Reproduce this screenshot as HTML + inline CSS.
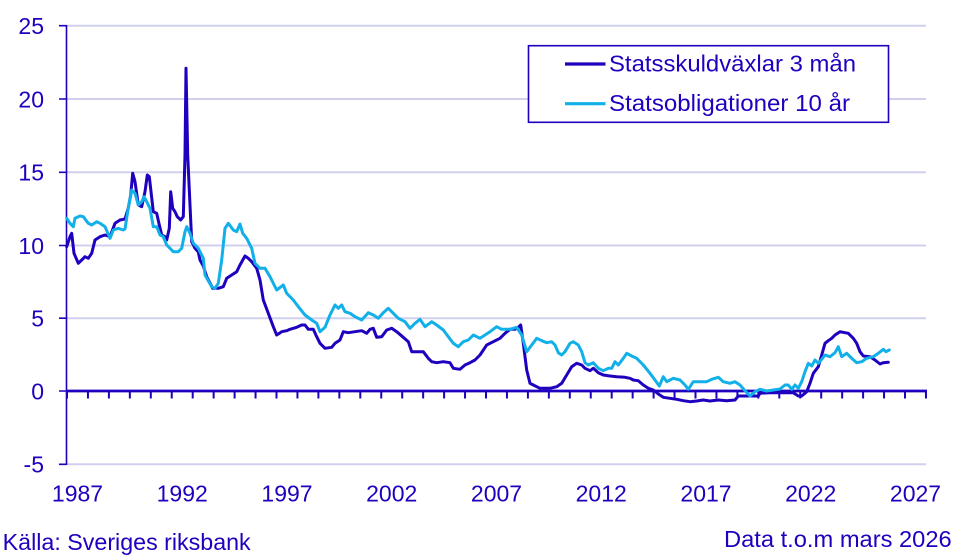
<!DOCTYPE html>
<html>
<head>
<meta charset="utf-8">
<style>
html,body{margin:0;padding:0;background:#fff}
svg{display:block}
text{font-family:"Liberation Sans","DejaVu Sans",sans-serif;fill:#1e00be}
</style>
</head>
<body>
<svg width="965" height="557" viewBox="0 0 965 557" xmlns="http://www.w3.org/2000/svg">
<rect width="965" height="557" fill="#fff"/>
<path d="M67 25.7H926M67 99H926M67 172.3H926M67 245.5H926M67 318.2H926M67 464.3H926" stroke="#d0d0ee" stroke-width="2" fill="none"/>
<path d="M66.5 25V465M59 25.7H67M59 99H67M59 172.3H67M59 245.5H67M59 318.2H67M59 391H67M59 464.3H67" stroke="#1e00be" stroke-width="1.6" fill="none"/>
<g font-size="23" text-anchor="end">
<text x="44" y="34">25</text>
<text x="44" y="107.3">20</text>
<text x="44" y="180.6">15</text>
<text x="44" y="253.8">10</text>
<text x="44" y="326.5">5</text>
<text x="44" y="399.3">0</text>
<text x="44" y="472.6">-5</text>
</g>
<line x1="66" y1="391" x2="927" y2="391" stroke="#1e00be" stroke-width="2.7"/>
<path d="M67 391v7.5M87.95 391v7.5M108.9 391v7.5M129.85 391v7.5M150.8 391v7.5M171.75 391v7.5M192.7 391v7.5M213.65 391v7.5M234.6 391v7.5M255.55 391v7.5M276.5 391v7.5M297.45 391v7.5M318.4 391v7.5M339.35 391v7.5M360.3 391v7.5M381.25 391v7.5M402.2 391v7.5M423.15 391v7.5M444.1 391v7.5M465.05 391v7.5M486 391v7.5M506.95 391v7.5M527.9 391v7.5M548.85 391v7.5M569.8 391v7.5M590.75 391v7.5M611.7 391v7.5M632.65 391v7.5M653.6 391v7.5M674.55 391v7.5M695.5 391v7.5M716.45 391v7.5M737.4 391v7.5M758.35 391v7.5M779.3 391v7.5M800.25 391v7.5M821.2 391v7.5M842.15 391v7.5M863.1 391v7.5M884.05 391v7.5M905 391v7.5M925.95 391v7.5" stroke="#1e00be" stroke-width="2" fill="none"/>
<g font-size="23" text-anchor="middle">
<text x="77.5" y="501.5">1987</text>
<text x="182.2" y="501.5">1992</text>
<text x="287" y="501.5">1997</text>
<text x="391.7" y="501.5">2002</text>
<text x="496.5" y="501.5">2007</text>
<text x="601.2" y="501.5">2012</text>
<text x="706" y="501.5">2017</text>
<text x="810.7" y="501.5">2022</text>
<text x="915.5" y="501.5">2027</text>
</g>
<path fill="none" stroke="#1e00be" stroke-width="3" stroke-linejoin="round" stroke-linecap="round" d="M66.7 246.7L70 236.7L71.7 233.3L74 253.3L78.3 263.3L81.7 260L85 256.7L88.3 258.3L91.7 253.3L95 240L100 236.7L105 235L110 236.7L115 223.3L120 220L125 219L128.3 208L130.7 195L132.7 173.3L135 181.7L138.3 205L141.7 206.7L145 191.7L147.3 175L149.3 176.7L153.3 211.7L156.7 213.3L159.3 225L161.7 235L165 236.7L166.7 240L169.3 228.3L170.7 191.7L172.7 208.3L175 211.7L177.3 216.7L180.7 220L183.3 216.7L185 155L186 68.3L187.7 155L190 205L191.7 241.7L195 248.3L198.3 252L200 260L203.3 266L206.7 276.7L212.7 288.3L218.3 288.3L223.3 286.7L226.7 278.3L231.7 275L236.7 271.7L240 265L245 256L248.3 258.3L251.7 261.7L256.7 268.3L260 280L263.3 300L268.3 313.3L273.3 326.7L276.7 335L281.7 331.7L286.7 330.7L290 329.3L296.7 327.3L301.7 325L305 325L308.3 329.3L313.3 329.3L316.7 336.7L320 343.3L325 348.3L331.7 347.3L335 343.3L340 340L343.3 331.7L348.3 332.7L355 331.7L361.7 330.7L366.7 333.3L370 329.3L373.3 328.3L376.7 337.3L381.7 336.7L386.7 330L391.7 328.3L396.7 331.7L403.3 337.3L408.3 341.7L411.7 351.7L416.7 351.7L423.3 351.7L428.3 358.3L431.7 361.7L436.7 362.7L443.3 361.7L450 362.7L453.3 368.3L460 369.3L465 365L470 362.7L475 360L480 355L486.7 345L493.3 341.7L500 338.3L505 333.3L510 329.3L515 329.3L518.3 327.3L520.7 325L523.3 343.3L526.7 370L530 383.3L533.3 385L536.7 386.7L540 388.3L550 388.3L556.7 386.7L561.7 383.3L566.7 375L571.7 366.7L576.7 363.3L581.7 365L585 368.3L590 370.7L593.3 368.3L598.3 372.7L603.3 375L610 376L616.7 376.7L625 377.3L630 378.3L633.3 380L638.3 380.7L643.3 385L648.3 388.3L653.3 390L658.3 394L663.3 397.3L670 398.3L676.7 399.3L683.3 400.7L690 401.7L696.7 401L703.3 400L710 401L718.3 400L726.7 400.7L735 400L738.3 396L746.7 396L758.3 396L760 393.3L770 392.7L780 392.7L793.3 392.7L798.3 396L801.7 396L806.7 391.7L810 383.3L813.3 373.3L818.3 366.7L821.7 355L825 343.3L828.3 340.7L831.7 338.3L835 335L840 331.7L845 332.7L848.3 333.3L853.3 338.3L856.7 343.3L860 351.7L863.3 356L870 356.7L875 360L880 364L883.3 362.7L888.3 362.3"/>
<path fill="none" stroke="#12b0e8" stroke-width="3" stroke-linejoin="round" stroke-linecap="round" d="M66.7 218.3L70 223.3L73.3 226.7L75 218.3L80 216L83.3 216.7L88.3 223.3L91.7 225L96.7 221.7L100 223.3L105 226.7L110 238.3L113.3 230L118.3 228.3L123.3 230L125 229L128.3 208L131.7 190L135 193.3L138.3 205L141.7 201.7L144 196.7L146.7 201.7L150 208.3L153.3 226.7L156.7 226.7L160 235L163.3 236.7L166.7 245L170 248.3L173.3 251.7L178.3 251.7L181.7 248.3L185 231.7L186.7 226.7L190 233.3L193.3 243.3L198.3 248.3L203.3 258.3L205 275L211.7 286.7L215 288.3L218.3 283.3L221.7 260L225 228.3L228.3 223.3L233.3 230L236.7 231.7L240 224L242.7 233.3L246.7 238.3L251.7 248.3L255 263.3L260 268.3L265 268.3L270 276.7L276.7 290L283.3 285L286.7 293.3L293.3 300L298.3 306.7L305 315L311.7 320L316.7 323.3L320 331.7L325 327.3L330 315L335 305L338.3 308.3L341.7 305L345 311.7L350 313.3L355 316.7L361.7 320L368.3 312.7L373.3 315L378.3 318.3L383.3 312.7L388.3 308.3L393.3 313.3L398.3 318.3L405 321.7L410 328.3L415 323.3L420 319.3L425 326.7L431.7 321.7L436.7 325L443.3 330L448.3 336.7L453.3 343.3L458.3 346.7L463.3 341.7L468.3 340L473.3 335L480 338.3L485 335L490 331.7L496.7 326.7L501.7 329.3L510 329.3L516.7 327.3L521.7 335L526.7 351.7L531.7 345L536.7 338.3L541.7 340.7L546.7 342.7L551.7 341.7L555 345L558.3 352.7L561.7 355L565 351.7L570 343.3L573.3 341.7L578.3 345L581.7 351.7L585 362.7L588.3 365L593.3 362.7L598.3 368.3L603.3 370.7L608.3 368.3L611.7 368.3L615 361.7L618.3 365L623.3 358.3L626.7 353.3L631.7 356L636.7 358.3L643.3 365L650 373.3L655 380L659.3 386L663.3 376.7L666.7 381.7L673.3 378.3L680 380L685 385L688.3 389.3L693.3 381.7L700 381.7L706.7 381.7L711.7 379.3L718.3 377.3L723.3 381.7L730 383.3L735 381.7L740 385L745 390.7L750 396L755 391.7L760 389.3L766.7 391L773.3 390L780 389L785 385L788.3 385L791.7 389.3L795 385L798.3 388.3L801.7 381.7L805 371.7L808.3 363.3L811.7 366L815 360L818.3 363.3L821.7 359.3L825 355L830 356.7L835 352.7L838.3 346.7L841.7 356.7L846.7 353.3L851.7 358.3L856.7 362.7L861.7 361.7L866.7 358.3L873.3 356.7L878.3 353.3L883.3 349.3L886 351.7L889.3 350"/>
<rect x="528.5" y="45.7" width="360" height="76.6" fill="#fff" stroke="#1e00be" stroke-width="1.6"/>
<line x1="565" y1="64" x2="605.5" y2="64" stroke="#1e00be" stroke-width="3.2"/>
<line x1="565" y1="103.7" x2="605.5" y2="103.7" stroke="#12b0e8" stroke-width="3.2"/>
<text x="609" y="71.6" font-size="23" textLength="247" lengthAdjust="spacingAndGlyphs">Statsskuldväxlar 3 mån</text>
<text x="609" y="111.2" font-size="23" textLength="241" lengthAdjust="spacingAndGlyphs">Statsobligationer 10 år</text>
<text x="2.7" y="550" font-size="23" textLength="248" lengthAdjust="spacingAndGlyphs">Källa: Sveriges riksbank</text>
<text x="724" y="547" font-size="23" textLength="227.7" lengthAdjust="spacingAndGlyphs">Data t.o.m mars 2026</text>
</svg>
</body>
</html>
